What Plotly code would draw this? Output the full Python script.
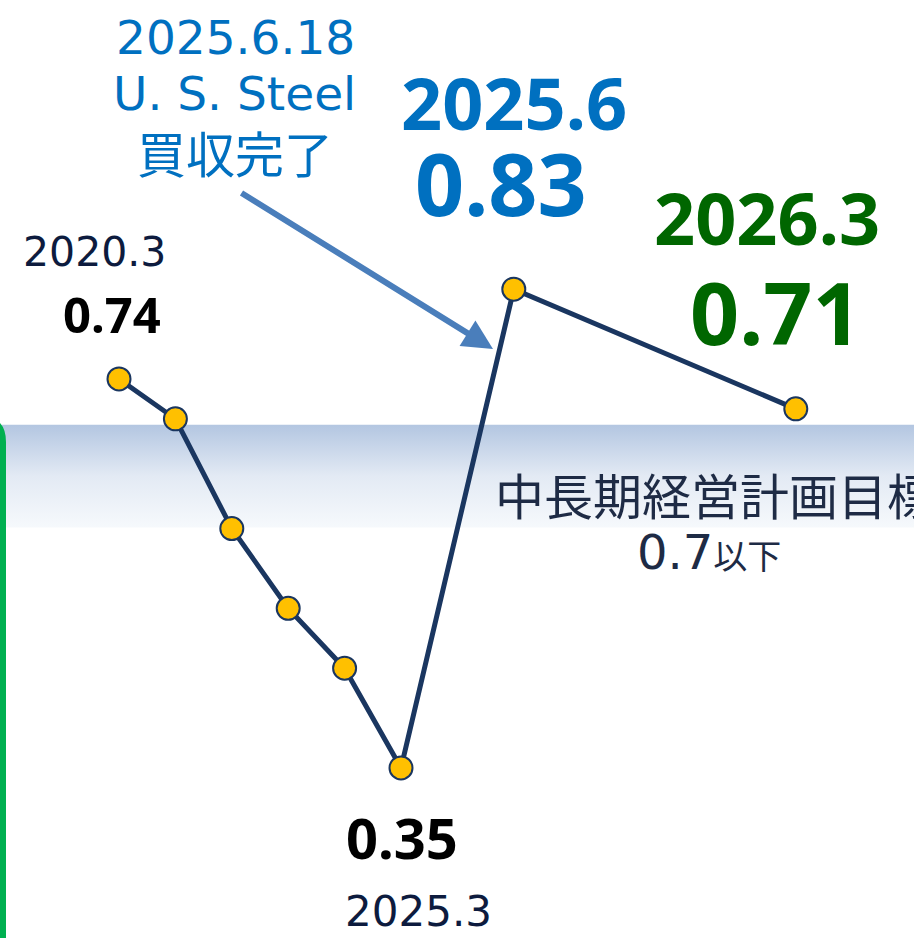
import plotly.graph_objects as go

# ---- data ----
period_labels = ["2020.3", "2021.3", "2022.3", "2023.3", "2024.3", "2025.3", "2025.6", "2026.3"]
de_ratio = [0.74, 0.70, 0.59, 0.51, 0.45, 0.35, 0.83, 0.71]
x_index = [0, 1, 2, 3, 4, 5, 7, 12]
target_band = [0.591, 0.694]   # 中長期経営計画目標 band

W, H = 914, 938
REG = "DejaVu Sans, Noto Sans CJK JP, sans-serif"
BOLD = "Noto Sans, Noto Sans CJK JP, sans-serif"
CJK = "Noto Sans CJK JP, sans-serif"

def px(x):
    return x / W

def py(y):
    return 1 - y / H

# axis ranges (hidden axes)
x_range = [-2.11, 14.096]
y_range = [0.1795, 1.1199]

fig = go.Figure()

# gradient target band
fig.add_trace(go.Scatter(
    x=[x_range[0], x_range[1], x_range[1], x_range[0], x_range[0]],
    y=[target_band[0], target_band[0], target_band[1], target_band[1], target_band[0]],
    mode="lines", line=dict(width=0), fill="toself",
    fillgradient=dict(type="vertical",
                      colorscale=[[0, "#F6F9FC"], [0.5, "#E3EAF4"], [1, "#B3C6E1"]]),
    hoverinfo="skip", showlegend=False,
))

# main line
fig.add_trace(go.Scatter(
    x=x_index, y=de_ratio, mode="lines+markers",
    line=dict(color="#1A3660", width=5),
    marker=dict(size=23, color="#FFC000", line=dict(color="#1A3660", width=2)),
    text=period_labels, hoverinfo="text+y", showlegend=False,
))

# green rounded border (right edge of a box)
fig.add_shape(type="path", xref="paper", yref="paper",
              path=f"M {px(3)},{py(940)} L {px(3)},{py(442)} Q {px(3)},{py(419)} {px(-20)},{py(419)}",
              line=dict(color="#00B050", width=6))

ann = []

def text(t, x, y, size, color, bold=False, family=REG):
    ann.append(dict(text=f"<b>{t}</b>" if bold else t, x=px(x), y=py(y), xref="paper", yref="paper",
                    xanchor="center", yanchor="middle", showarrow=False,
                    font=dict(size=size, color=color, family=family)))

# U.S. Steel annotation
text("2025.6.18", 235, 37, 47, "#0070C0")
text("U. S. Steel", 234, 94, 47, "#0070C0")
text("買収完了", 235, 151, 49, "#0070C0", family=CJK)

# arrow
ann.append(dict(text="", x=px(493), y=py(349), xref="paper", yref="paper",
                ax=240 - 493, ay=192 - 349, showarrow=True,
                arrowhead=2, arrowsize=1.0, arrowwidth=6, arrowcolor="#4A7EBB", standoff=0))

# point labels
text(period_labels[6], 514, 102, 72, "#0070C0", bold=True, family=BOLD)
text(f"{de_ratio[6]:.2f}", 501, 182, 86, "#0070C0", bold=True, family=BOLD)
text(period_labels[7], 767, 217, 72, "#006600", bold=True, family=BOLD)
text(f"{de_ratio[7]:.2f}", 776, 312, 86, "#006600", bold=True, family=BOLD)
text(period_labels[0], 94, 252, 41, "#0D1B3E")
text(f"{de_ratio[0]:.2f}", 112, 314, 49, "#000000", bold=True, family=BOLD)
text(f"{de_ratio[5]:.2f}", 402, 837, 56, "#000000", bold=True, family=BOLD)
text(period_labels[5], 418, 911, 42, "#0D1B3E")

# target text
text("中長期経営計画目標", 715, 494, 49, "#1E2B45", family=CJK)
text("0.7<span style='font-size:34px;font-family:Noto Sans CJK JP'>以下</span>", 709, 552, 48, "#1E2B45")

fig.update_layout(
    width=W, height=H, margin=dict(l=0, r=0, t=0, b=0),
    paper_bgcolor="white", plot_bgcolor="white",
    xaxis=dict(range=x_range, visible=False, fixedrange=True),
    yaxis=dict(range=y_range, visible=False, fixedrange=True),
    annotations=ann, showlegend=False,
)

fig.write_html("out.html", config={"displayModeBar": False},
               post_script="document.body.style.margin='0';document.body.style.overflow='hidden';")
